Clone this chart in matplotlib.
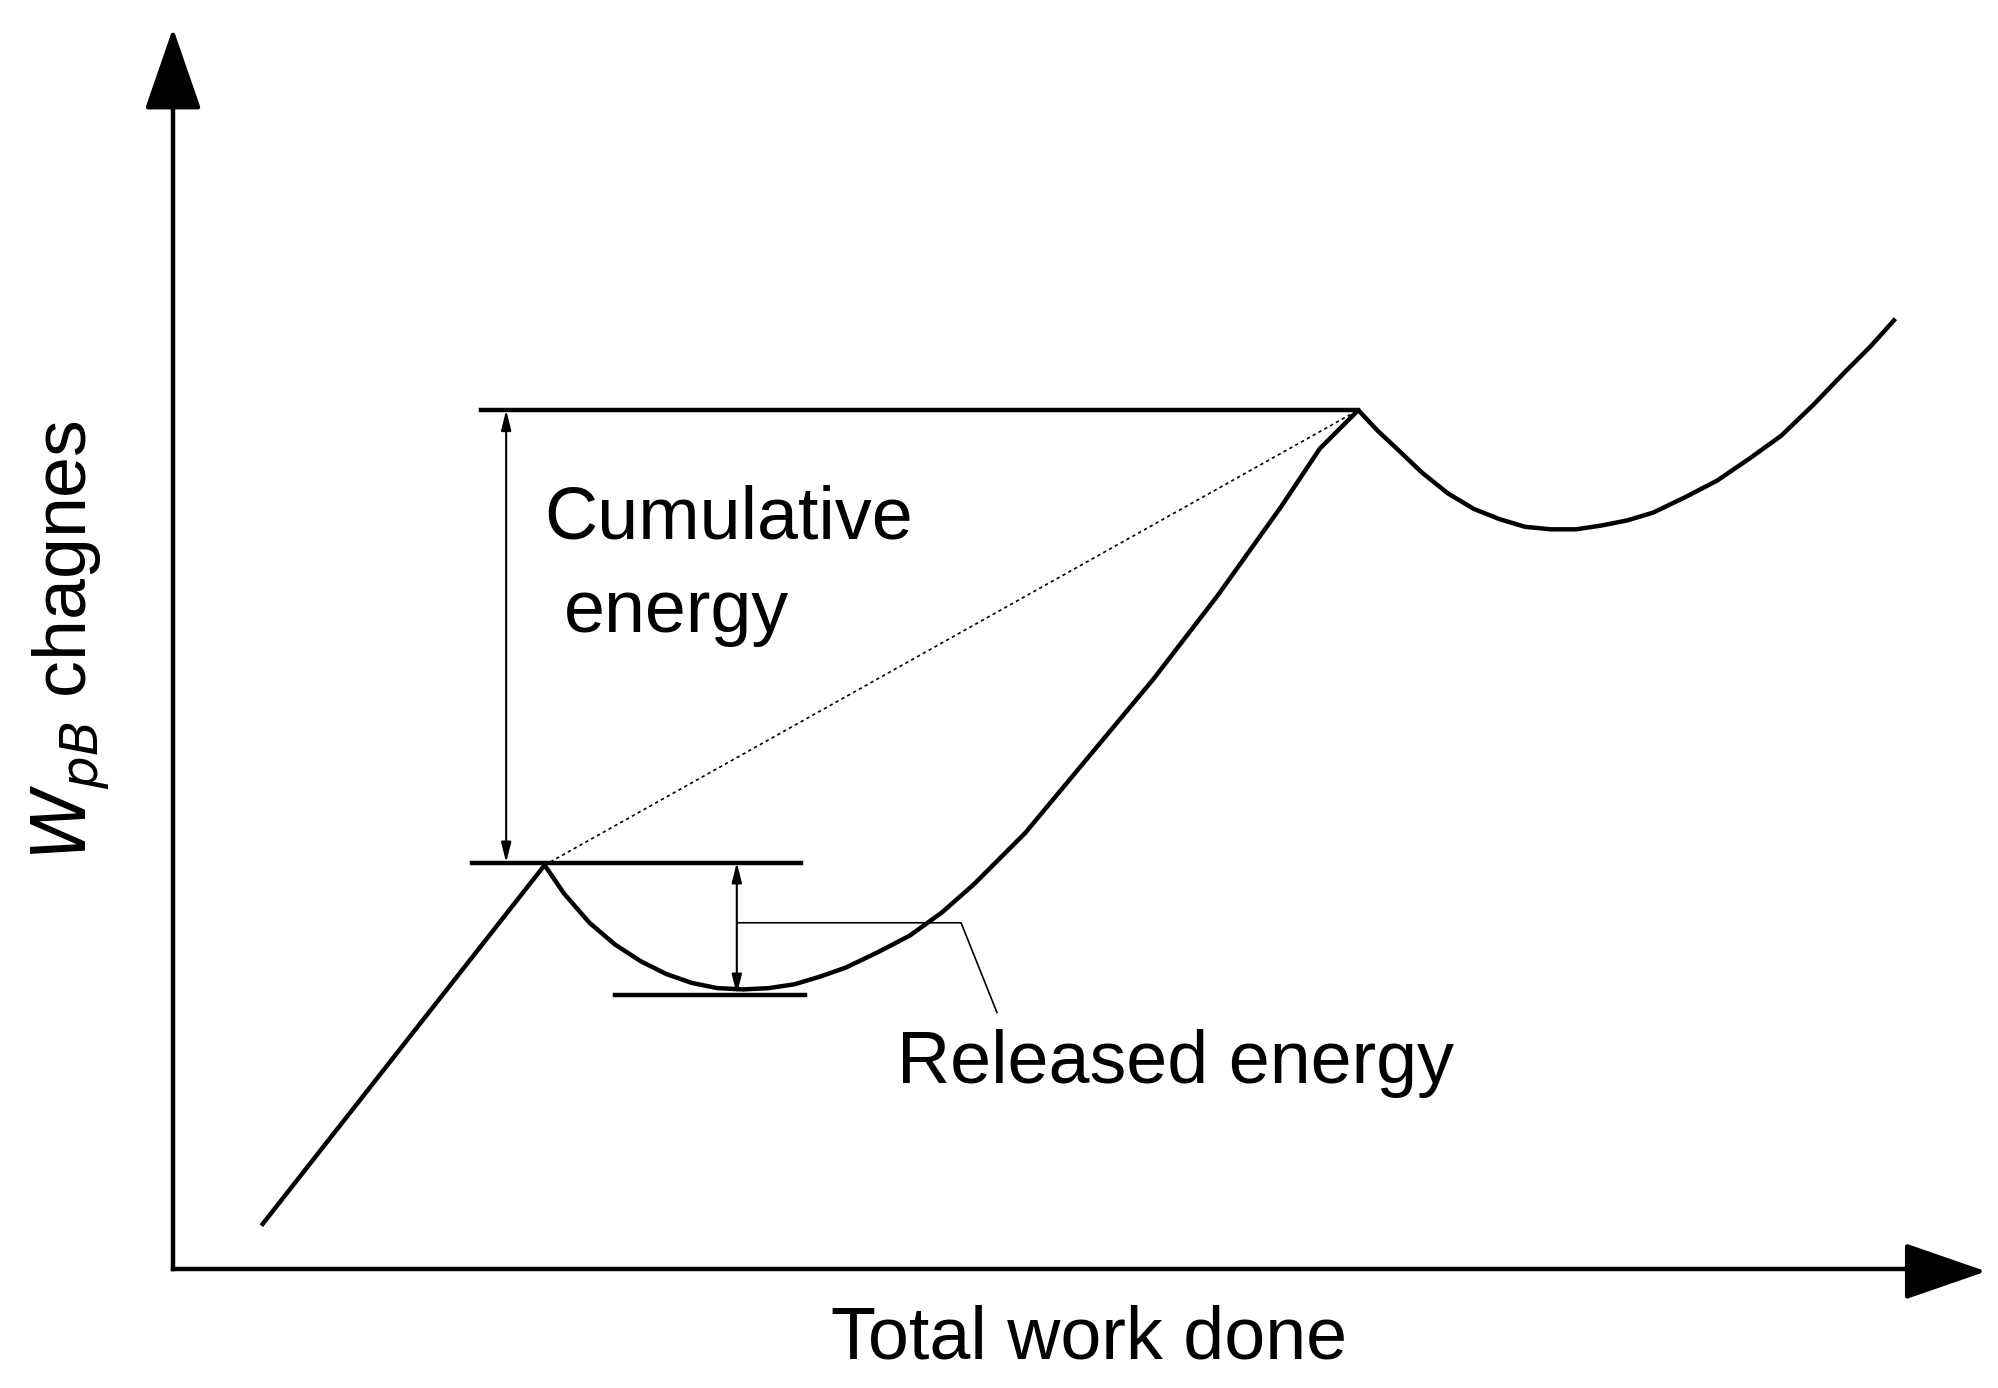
import numpy as np
import matplotlib.pyplot as plt

plt.rcParams['font.family'] = ['Liberation Sans', 'DejaVu Sans']

# curve points, in the reference's displayed pixel frame (x right, y down)
curve_x = [205, 425, 440, 460, 480, 500, 520, 540, 560, 580, 600, 620, 640, 660, 685, 710, 735,
           760, 800, 850, 900, 950, 1000, 1030, 1060, 1075, 1090, 1110, 1130, 1150, 1170, 1190,
           1210, 1230, 1250, 1270, 1290, 1315, 1340, 1365, 1390, 1415, 1440, 1460, 1478]
curve_y = [955, 675, 697, 720, 737, 750, 760, 767, 771, 772, 771, 768, 762, 755, 743, 730, 712,
           690, 650, 590, 530, 465, 395, 350, 320, 336, 350, 369, 385, 397, 405, 411,
           413, 413, 410, 406, 400, 388, 375, 358, 340, 316, 290, 270, 250]

peak1 = (425, 675)
peak2 = (1060, 320)

fig = plt.figure(figsize=(19.99, 13.88), dpi=100)
ax = fig.add_axes([0, 0, 1, 1])
ax.set_xlim(0, 1560)
ax.set_ylim(1083, 0)
ax.axis('off')

lw = 3.2
# axes with arrows
ax.plot([135, 135], [990, 60], color='black', lw=lw)
ax.plot([135, 1510], [990, 990], color='black', lw=lw)
head = dict(arrowstyle='-|>,head_width=0.45,head_length=1.3', color='black', lw=lw,
            mutation_scale=40, shrinkA=0, shrinkB=0)
ax.annotate('', xy=(135, 22), xytext=(135, 80), arrowprops=head)
ax.annotate('', xy=(1550, 992), xytext=(1490, 992), arrowprops=head)

ax.plot(curve_x, curve_y, color='black', lw=lw, solid_joinstyle='round')
ax.plot([peak1[0], peak2[0]], [peak1[1], peak2[1]], color='black', lw=1.2, ls=(0, (2, 2)))

# reference lines
ax.plot([375, peak2[0]], [peak2[1], peak2[1]], color='black', lw=lw)
ax.plot([368, 625], [peak1[1] - 2, peak1[1] - 2], color='black', lw=lw)
ax.plot([480, 628], [776, 776], color='black', lw=lw)

arr = dict(arrowstyle='<|-|>,head_width=0.3,head_length=1.2', color='black', lw=1.5,
           shrinkA=0, shrinkB=0)
ax.annotate('', xy=(395, peak2[1]), xytext=(395, peak1[1] - 2), arrowprops=arr)
ax.annotate('', xy=(575, peak1[1] - 2), xytext=(575, 776), arrowprops=arr)

# leader line
ax.plot([575, 750, 778], [720, 720, 790], color='black', lw=1.2)

fs = 53
ax.text(425, 405, 'Cumulative', fontsize=fs, va='center', ha='left')
ax.text(440, 478, 'energy', fontsize=fs, va='center', ha='left')
ax.text(700, 830, 'Released energy', fontsize=fs, va='center', ha='left')
ax.text(850, 1045, 'Total work done', fontsize=fs, va='center', ha='center')
ax.text(55, 500, r'$W_{pB}$ chagnes', fontsize=fs, va='center', ha='center', rotation=90)

fig.savefig('out.png', dpi=100)
